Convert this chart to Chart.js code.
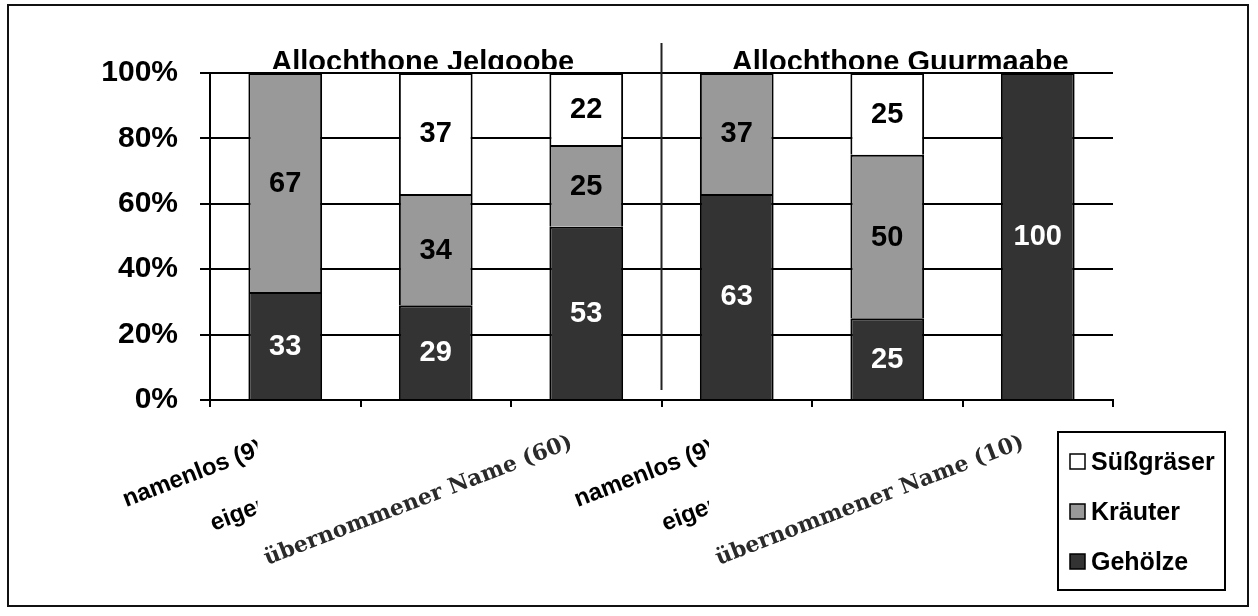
<!DOCTYPE html>
<html>
<head>
<meta charset="utf-8">
<script src="https://cdn.jsdelivr.net/npm/chart.js@4.4.1/dist/chart.umd.min.js"></script>
<style>
html, body { margin: 0; padding: 0; background: #fff; }
</style>
</head>
<body>
<canvas id="chart" width="1258" height="616"></canvas>
<script>
const categories = ['namenlos (9)', 'eigener Name', 'übernommener Name (60)', 'namenlos (9)', 'eigener Name', 'übernommener Name (10)'];
const groups = ['Allochthone Jelgoobe', 'Allochthone Guurmaabe'];
const gehoelze = [33, 29, 53, 63, 25, 100];
const kraeuter = [67, 34, 25, 37, 50, 0];
const suessgraeser = [0, 37, 22, 0, 25, 0];
const yTickLabels = ['0%', '20%', '40%', '60%', '80%', '100%'];

const SANS = '"Liberation Sans", Arial, sans-serif';

// white page + outer frame
const frame = {
    id: 'frame',
    beforeDraw(chart) {
        const ctx = chart.ctx;
        ctx.save();
        ctx.fillStyle = '#fff';
        ctx.fillRect(0, 0, chart.width, chart.height);
        ctx.strokeStyle = '#111';
        ctx.lineWidth = 2;
        ctx.strokeRect(8, 5, 1240, 601);
        ctx.restore();
    }
};

// group titles and the divider line
const groupTitles = {
    id: 'groupTitles',
    afterDatasetsDraw(chart) {
        const ctx = chart.ctx, x = chart.scales.x, area = chart.chartArea;
        const mid = (x.getPixelForValue(2) + x.getPixelForValue(3)) / 2;
        ctx.save();
        ctx.strokeStyle = '#222';
        ctx.lineWidth = 2;
        ctx.beginPath();
        ctx.moveTo(mid, area.top - 30);
        ctx.lineTo(mid, area.bottom - 10);
        ctx.stroke();

        ctx.beginPath();
        ctx.rect(0, 0, chart.width, area.top - 4);
        ctx.clip();
        ctx.fillStyle = '#000';
        ctx.font = 'bold 29px ' + SANS;
        ctx.textAlign = 'center';
        ctx.textBaseline = 'alphabetic';
        const shift = [-13, 13];
        groups.forEach((g, k) => {
            const cx = (x.getPixelForValue(k * 3) + x.getPixelForValue(k * 3 + 2)) / 2;
            ctx.fillText(g, cx + shift[k], area.top - 2);
        });
        ctx.restore();
    }
};

// numbers inside the segments
const valueLabels = {
    id: 'valueLabels',
    afterDatasetsDraw(chart) {
        const ctx = chart.ctx;
        ctx.save();
        ctx.font = 'bold 29px ' + SANS;
        ctx.textAlign = 'center';
        ctx.textBaseline = 'middle';
        chart.data.datasets.forEach((ds, di) => {
            chart.getDatasetMeta(di).data.forEach((bar, i) => {
                const v = ds.data[i];
                if (!v) return;
                const c = bar.getCenterPoint();
                ctx.fillStyle = ds.labelColor;
                ctx.fillText(String(v), c.x, c.y + 1);
            });
        });
        ctx.restore();
    }
};

// rotated category labels (the long ones carry a white box, as in the original)
const categoryLabels = {
    id: 'categoryLabels',
    afterDraw(chart) {
        const ctx = chart.ctx, x = chart.scales.x, bottom = chart.chartArea.bottom;
        const ang = -21 * Math.PI / 180;
        const cos = Math.cos(ang), sin = Math.sin(ang);
        const dx = [-159, -222, -319];
        const dy = [107, 131, 165];
        const pad = 3;
        categories.forEach((lab, i) => {
            const p = i % 3;
            const sx = x.getPixelForValue(i) + dx[p];
            const sy = bottom + dy[p];
            ctx.save();
            ctx.font = p === 2 ? 'bold 22px "DejaVu Serif", serif' : 'bold 24px ' + SANS;
            if (p === 2) {
                const m = ctx.measureText(lab);
                const a = m.actualBoundingBoxAscent + 1, d = m.actualBoundingBoxDescent, w = m.width;
                const pts = [[0, -a], [w, -a], [w, d], [0, d]].map(([u, v]) => [sx + u * cos - v * sin, sy + u * sin + v * cos]);
                const xs = pts.map(q => q[0]), ys = pts.map(q => q[1]);
                const x0 = Math.min(...xs) - pad, y0 = Math.min(...ys) - pad;
                ctx.fillStyle = '#fff';
                ctx.fillRect(x0, y0, Math.max(...xs) + pad - x0, Math.max(...ys) + pad - y0);
            }
            ctx.translate(sx, sy);
            ctx.rotate(ang);
            ctx.fillStyle = p === 2 ? '#2a2a2a' : '#000';
            ctx.textAlign = 'left';
            ctx.textBaseline = 'alphabetic';
            ctx.fillText(lab, 0, 0);
            ctx.restore();
        });
    }
};

// boxed legend at the bottom right
const legendBox = {
    id: 'legendBox',
    afterDraw(chart) {
        const ctx = chart.ctx;
        ctx.save();
        ctx.strokeStyle = '#000';
        ctx.lineWidth = 2;
        ctx.strokeRect(1058, 432, 167, 158);
        ctx.font = 'bold 25px ' + SANS;
        ctx.textAlign = 'left';
        ctx.textBaseline = 'middle';
        const items = chart.data.datasets.slice().reverse();
        items.forEach((ds, k) => {
            const y = 462 + k * 50;
            ctx.fillStyle = ds.backgroundColor;
            ctx.fillRect(1070, y - 8, 15, 15);
            ctx.lineWidth = 1.5;
            ctx.strokeRect(1070, y - 8, 15, 15);
            ctx.fillStyle = '#000';
            ctx.fillText(ds.label, 1091, y + 1);
        });
        ctx.restore();
    }
};

const segBorder = { top: 2, right: 2, bottom: 0, left: 2 };

new Chart(document.getElementById('chart'), {
    type: 'bar',
    data: {
        labels: categories,
        datasets: [
            { label: 'Gehölze', data: gehoelze, backgroundColor: '#333333', labelColor: '#fff',
              borderColor: '#000', borderWidth: segBorder, borderSkipped: false },
            { label: 'Kräuter', data: kraeuter, backgroundColor: '#999999', labelColor: '#000',
              borderColor: '#000', borderWidth: segBorder, borderSkipped: false },
            { label: 'Süßgräser', data: suessgraeser, backgroundColor: '#ffffff', labelColor: '#000',
              borderColor: '#000', borderWidth: segBorder, borderSkipped: false }
        ]
    },
    options: {
        responsive: false,
        animation: false,
        categoryPercentage: 1,
        barPercentage: 0.49,
        layout: { padding: { top: 73, right: 145, bottom: 216, left: 0 } },
        plugins: {
            legend: { display: false },
            tooltip: { enabled: false }
        },
        scales: {
            x: {
                stacked: true,
                offset: true,
                grid: { offset: true, drawOnChartArea: false, drawTicks: true, tickLength: 7, color: '#000', lineWidth: 2 },
                border: { display: true, color: '#000', width: 2 },
                ticks: { display: false },
                afterFit(s) { s.height = 0; }
            },
            y: {
                stacked: true,
                min: 0,
                max: 100,
                grid: { color: '#000', lineWidth: 2, tickLength: 10 },
                border: { display: true, color: '#000', width: 2 },
                ticks: {
                    stepSize: 20,
                    padding: 22,
                    color: '#000',
                    font: { family: SANS, size: 30, weight: 'bold' },
                    callback: (v) => yTickLabels[v / 20]
                },
                afterFit(s) { s.width = 210; }
            }
        }
    },
    plugins: [frame, groupTitles, valueLabels, categoryLabels, legendBox]
});
</script>
</body>
</html>
